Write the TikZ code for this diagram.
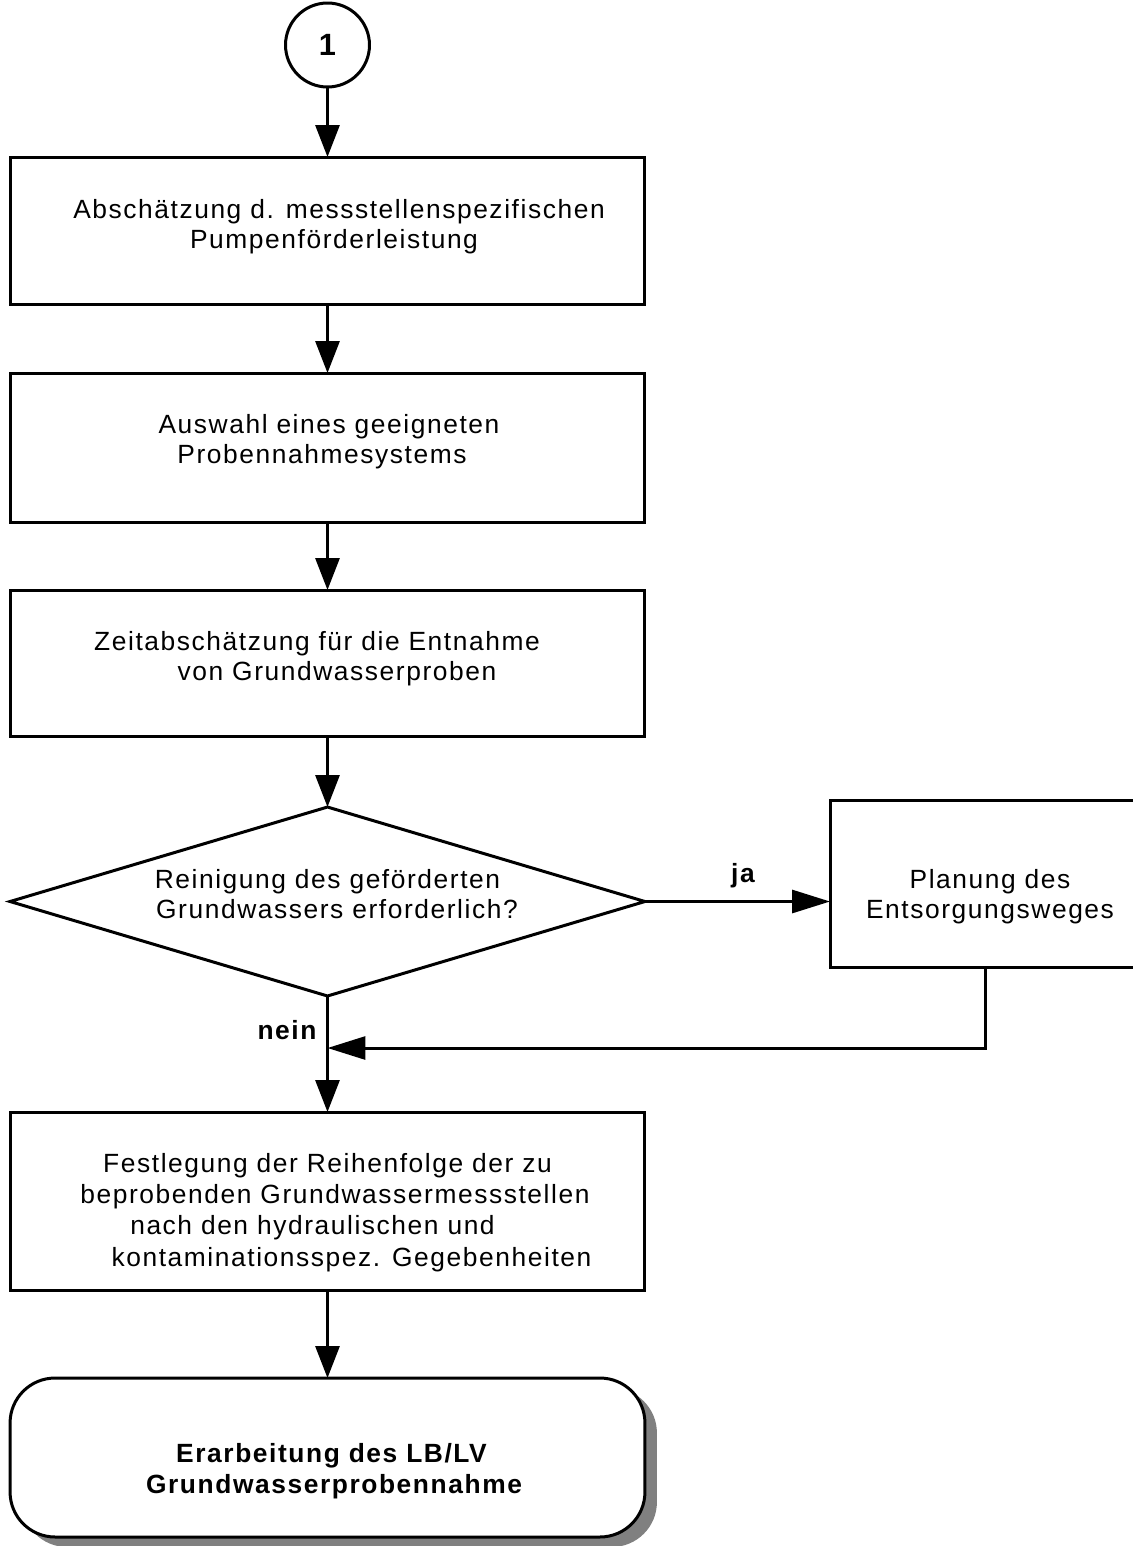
\documentclass[tikz,border=0pt]{standalone}
\usepackage{fontspec}
\setmainfont{Liberation Sans}[LetterSpace=6]
\usetikzlibrary{arrows.meta,shapes.geometric,shadows}
\newdimen\pxu \pxu=0.02cm
\newcommand{\boxtxt}[2]{\raisebox{#1\pxu}[0pt][0pt]{\begin{tabular}[t]{@{}c@{}}#2\end{tabular}}}
\begin{document}
\begin{tikzpicture}[x=0.02cm,y=-0.02cm,
  line width=0.06cm,
  every node/.style={inner sep=0pt, outer sep=0pt},
  txtfont/.style={font=\fontsize{15pt}{17.6pt}\selectfont},
  procbox/.style={draw, rectangle, minimum width=12.7cm, txtfont},
  arr/.style={-{Triangle[length=0.64cm,width=0.48cm]}},
  arrh/.style={-{Triangle[length=0.76cm,width=0.46cm]}},
  lbl/.style={font=\fontsize{15pt}{17.6pt}\selectfont\bfseries}
]
\useasboundingbox (0,0) rectangle (1133,1546);
\fill[white] (0,0) rectangle (1133,1546);

\node[draw, circle, minimum size=1.68cm, font=\fontsize{17.5pt}{20pt}\selectfont\bfseries] (start) at (327.5,45) {1};

\node[procbox, minimum height=2.96cm] (b1) at (327.5,231)
  {\boxtxt{13}{\kern23\pxu Abschätzung d. messstellenspezifischen\\\kern13\pxu Pumpenförderleistung}};

\node[procbox, minimum height=3.0cm] (b2) at (327.5,448)
  {\boxtxt{15}{\kern3\pxu Auswahl eines geeigneten\\Probennahmesystems\kern11\pxu}};

\node[procbox, minimum height=2.94cm] (b3) at (327.5,663.5)
  {\boxtxt{13.5}{Zeitabschätzung für die Entnahme\kern21\pxu\\\kern19\pxu von Grundwasserproben}};

\node[draw, diamond, shape aspect=3.36, minimum width=12.7cm, minimum height=3.78cm, txtfont] (d) at (327.5,901.5)
  {\boxtxt{13.5}{Reinigung des geförderten\\\kern19\pxu Grundwassers erforderlich?}};

\node[draw, rectangle, minimum width=6.2cm, minimum height=3.36cm, txtfont] (b4) at (985,884)
  {\boxtxt{-4}{\kern10\pxu Planung des\\\kern10\pxu Entsorgungsweges}};

\node[procbox, minimum height=3.56cm, font=\fontsize{15pt}{17.9pt}\selectfont] (b5) at (327.5,1201)
  {\boxtxt{29}{Festlegung der Reihenfolge der zu\\\kern15\pxu beprobenden Grundwassermessstellen\\nach den hydraulischen und\kern30\pxu\\\kern48\pxu kontaminationsspez. Gegebenheiten}};

\node[draw, fill=white, rectangle, rounded corners=0.9cm, minimum width=12.7cm, minimum height=3.18cm,
      drop shadow={shadow xshift=0.24cm, shadow yshift=-0.2cm, fill=black!50, opacity=1},
      font=\fontsize{15pt}{18.1pt}\selectfont\bfseries] (b6) at (327.5,1457.5)
  {\boxtxt{-4.5}{\kern8\pxu Erarbeitung des LB/LV\\\kern13\pxu Grundwasserprobennahme}};

\coordinate (m) at (327.5,1048);

\draw[arr] (start.south) -- (b1.north);
\draw[arr] (b1.south) -- (b2.north);
\draw[arr] (b2.south) -- (b3.north);
\draw[arr] (b3.south) -- (d.north);
\draw[arrh] (d.east) -- (d.east -| b4.west);
\draw[arr] (d.south) -- (b5.north);
\draw[arrh] (b4.south) |- (m);
\draw[arr] (b5.south) -- (b6.north);

\node[lbl] (ja) at (743,876) {ja};
\node[lbl] (nein) at (287,1030.5) {nein};
\end{tikzpicture}
\end{document}
